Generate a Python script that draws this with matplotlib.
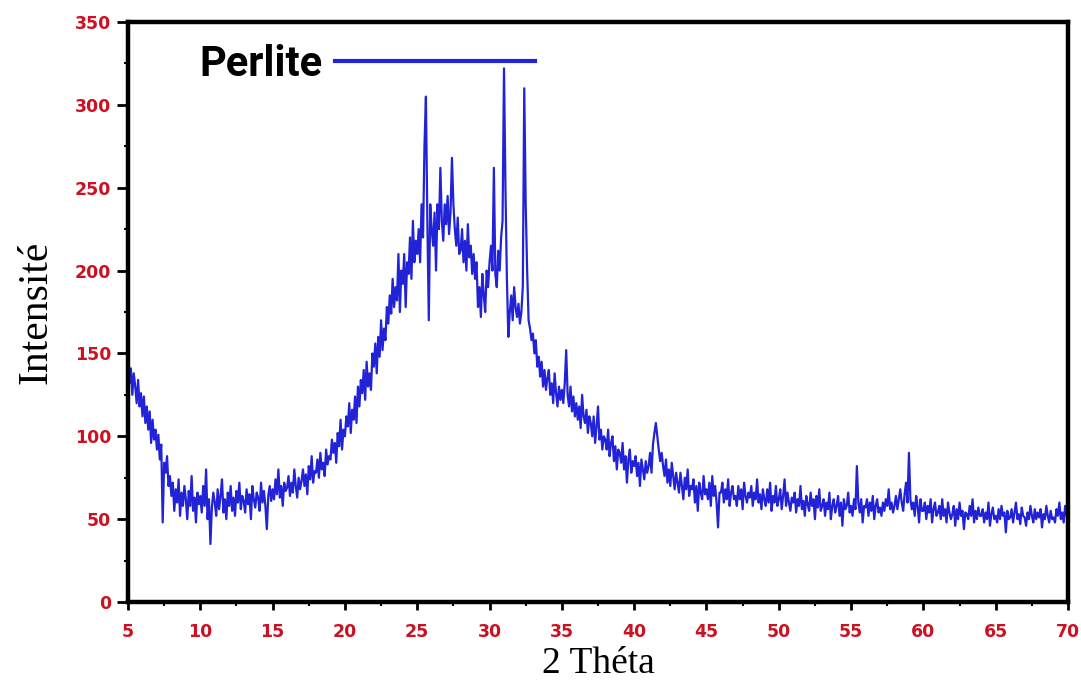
import numpy as np
import matplotlib
matplotlib.use("Agg")
import matplotlib.pyplot as plt
from matplotlib.ticker import MultipleLocator

# ---- data ----
theta_start = 5.0
theta_step = 0.1
intensity = [
    148, 132, 141, 125, 138, 130, 120, 134, 118, 126,   # 5
    112, 124, 108, 118, 104, 115, 96, 110, 98, 104,     # 6
    92, 101, 86, 95, 48, 84, 78, 88, 70, 76,            # 7
    64, 72, 55, 68, 60, 74, 52, 66, 58, 70,             # 8
    62, 50, 67, 58, 76, 55, 63, 48, 66, 59,             # 9
    64, 54, 70, 58, 80, 50, 62, 35, 57, 66,             # 10
    60, 52, 68, 56, 64, 74, 54, 62, 50, 66,             # 11
    58, 70, 55, 63, 52, 67, 60, 72, 56, 64,             # 12
    61, 54, 68, 59, 65, 50, 70, 62, 57, 66,             # 13
    63, 55, 72, 60, 67, 58, 44, 64, 70, 61,             # 14
    68, 62, 74, 65, 80, 63, 70, 58, 72, 67,             # 15
    69, 76, 64, 72, 66, 80, 70, 63, 75, 68,             # 16
    73, 80, 70, 77, 65, 82, 74, 88, 72, 79,             # 17
    78, 86, 75, 90, 80, 84, 76, 92, 83, 88,             # 18
    86, 98, 90, 96, 84, 102, 94, 110, 92, 104,          # 19
    100, 112, 106, 120, 102, 116, 110, 124, 108, 130,   # 20
    118, 134, 126, 140, 122, 145, 130, 138, 128, 150,   # 21
    142, 156, 138, 160, 148, 170, 152, 165, 158, 178,   # 22
    168, 185, 174, 195, 178, 190, 182, 210, 175, 200,   # 23
    192, 210, 178, 205, 198, 220, 195, 230, 205, 218,   # 24
    210, 225, 205, 240, 220, 275, 305, 230, 170, 240,   # 25
    225, 215, 235, 200, 240, 225, 262, 230, 218, 240,   # 26
    228, 245, 222, 235, 268, 240, 225, 215, 232, 210,   # 27
    212, 225, 205, 218, 200, 228, 208, 215, 198, 210,   # 28
    195, 205, 178, 190, 172, 198, 185, 175, 200, 190,   # 29
    205, 215, 200, 262, 198, 190, 212, 200, 220, 230,   # 30
    322, 250, 195, 160, 175, 185, 170, 190, 178, 172,   # 31
    180, 168, 175, 190, 310, 240, 200, 170, 165, 158,   # 32
    162, 150, 158, 142, 148, 136, 145, 130, 140, 128,   # 33
    135, 140, 125, 132, 120, 138, 126, 118, 130, 122,   # 34
    128, 120, 132, 152, 125, 118, 130, 115, 124, 112,   # 35
    120, 110, 118, 105, 125, 112, 108, 116, 102, 112,   # 36
    108, 100, 112, 96, 106, 118, 98, 104, 92, 100,      # 37
    98, 92, 104, 88, 96, 100, 85, 94, 80, 92,           # 38
    90, 84, 96, 80, 88, 72, 86, 92, 78, 85,             # 39
    82, 88, 76, 84, 70, 86, 80, 74, 85, 78,             # 40
    82, 90, 78, 95, 102, 108, 100, 92, 85, 90,          # 41
    82, 76, 86, 72, 80, 70, 84, 76, 68, 78,             # 42
    72, 66, 78, 70, 62, 75, 68, 80, 64, 70,             # 43
    68, 74, 60, 70, 55, 72, 66, 62, 76, 65,             # 44
    68, 62, 72, 58, 76, 64, 70, 60, 45, 66,             # 45
    66, 72, 60, 68, 62, 74, 58, 66, 70, 62,             # 46
    64, 58, 70, 62, 68, 56, 72, 64, 60, 66,             # 47
    63, 70, 58, 66, 62, 74, 60, 65, 56, 68,             # 48
    62, 58, 68, 60, 72, 55, 64, 60, 70, 58,             # 49
    62, 68, 56, 64, 74, 58, 66, 60, 55, 63,             # 50
    60, 66, 54, 62, 58, 70, 56, 61, 52, 64,             # 51
    59, 55, 66, 58, 62, 50, 64, 57, 68, 55,             # 52
    58, 62, 52, 60, 56, 66, 50, 58, 62, 54,             # 53
    58, 64, 52, 60, 46, 62, 56, 58, 66, 54,             # 54
    58, 52, 62, 56, 82, 60, 54, 62, 48, 58,             # 55
    57, 62, 52, 60, 55, 64, 50, 58, 62, 54,             # 56
    57, 52, 60, 55, 62, 58, 68, 56, 60, 54,             # 57
    58, 64, 56, 62, 68, 60, 55, 65, 72, 60,             # 58
    90, 62, 56, 60, 52, 64, 58, 48, 62, 55,             # 59
    55, 60, 50, 58, 54, 62, 48, 56, 60, 52,             # 60
    54, 58, 50, 62, 52, 56, 48, 60, 54, 50,             # 61
    53, 58, 46, 56, 50, 60, 52, 55, 44, 54,             # 62
    53, 50, 58, 52, 62, 48, 55, 50, 57, 52,             # 63
    52, 56, 48, 54, 50, 60, 46, 53, 57, 50,             # 64
    52, 48, 56, 50, 58, 52, 54, 42, 55, 50,             # 65
    51, 56, 48, 54, 60, 50, 53, 47, 57, 52,             # 66
    51, 46, 54, 50, 58, 52, 48, 56, 50, 54,             # 67
    51, 56, 45, 53, 50, 58, 52, 48, 55, 50,             # 68
    51, 48, 56, 52, 60, 50, 54, 48, 58, 52,             # 69
    62,                                                 # 70
]
series_label = "Perlite"
x_ticks = [5, 10, 15, 20, 25, 30, 35, 40, 45, 50, 55, 60, 65, 70]
y_ticks = [0, 50, 100, 150, 200, 250, 300, 350]

theta = theta_start + theta_step * np.arange(len(intensity))

BLUE = "#2222d6"
RED = "#cc1122"
SERIF = ["Liberation Serif", "DejaVu Serif"]

fig = plt.figure(figsize=(10.81, 6.84), dpi=100)
ax = fig.add_axes([0.1184, 0.1199, 0.988 - 0.1184, 0.9678 - 0.1199])

ax.plot(theta, intensity, color=BLUE, lw=1.6, label=series_label)

ax.set_xlim(5, 70)
ax.set_ylim(0, 350)
ax.set_xticks(x_ticks)
ax.set_yticks(y_ticks)
ax.xaxis.set_minor_locator(MultipleLocator(2.5))
ax.yaxis.set_minor_locator(MultipleLocator(25))

for s in ax.spines.values():
    s.set_linewidth(3.2)
    s.set_color("black")

ax.tick_params(which="major", direction="out", length=6, width=2, color="black",
               labelcolor=RED, labelsize=12.5)
ax.tick_params(axis="x", which="major", pad=9)
ax.tick_params(axis="y", which="major", length=8, pad=4)
ax.tick_params(which="minor", direction="out", length=3, width=1.5, color="black")
for lab in ax.get_xticklabels() + ax.get_yticklabels():
    lab.set_fontfamily("DejaVu Sans")
    lab.set_fontweight("bold")

ax.set_xlabel("2 Théta", family=SERIF, fontsize=27, labelpad=4)
ax.set_ylabel("Intensité", family=SERIF, fontsize=30, labelpad=14)

leg = ax.legend(loc="upper left", bbox_to_anchor=(0.076, 0.962), frameon=False,
                borderpad=0, borderaxespad=0,
                markerfirst=False, handlelength=4.8, handletextpad=0.3,
                prop=dict(family=["Roboto", "DejaVu Sans"], weight="bold", size=30))
for h in leg.get_lines():
    h.set_linewidth(3)

fig.savefig("out.png", dpi=100)
